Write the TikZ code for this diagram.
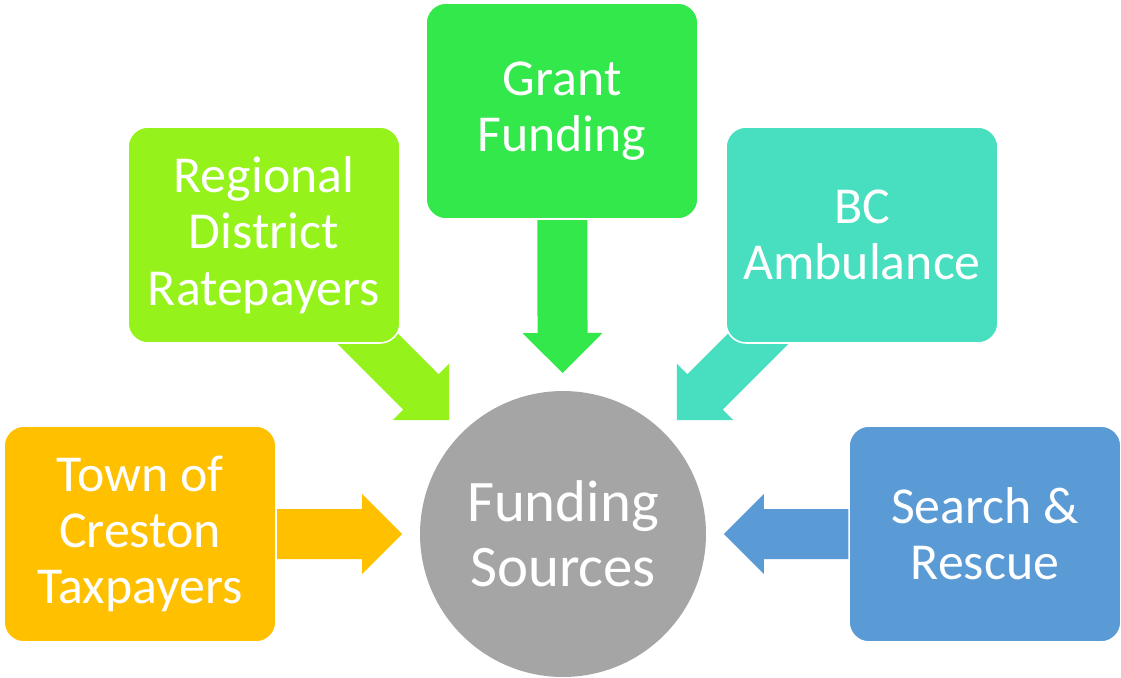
\documentclass[tikz,border=0pt]{standalone}
\usepackage{fontspec}
\setmainfont{Carlito}
\usetikzlibrary{calc,backgrounds}

\definecolor{townyellow}{HTML}{FFC000}
\definecolor{regionlime}{HTML}{95F21B}
\definecolor{grantgreen}{HTML}{32E84A}
\definecolor{ambulanceteal}{HTML}{48DFC0}
\definecolor{rescueblue}{HTML}{5B9BD5}
\definecolor{hubgrey}{HTML}{A5A5A5}

\tikzset{
  source/.style={draw=white,line width=0.9pt,rounded corners=0.4cm,
    minimum width=5.44cm,minimum height=4.32cm,inner sep=0pt,
    text=white,align=center,font=\fontsize{29.5}{32}\selectfont},
  hub/.style={circle,fill=hubgrey,minimum size=5.72cm,inner sep=0pt,
    text=white,align=center,font=\fontsize{33.5}{37}\selectfont}
}

% block arrow: colour, from node, to point
\newcommand{\blockarrow}[3]{%
  \path ($(#3)!0.8cm!(#2)$) coordinate (head);
  \fill[#1] ($(#2)!0.5cm!90:(#3)$) -- ($(head)!0.5cm!90:(#3)$)
    -- ($(head)!0.8cm!90:(#3)$) -- (#3)
    -- ($(head)!0.8cm!-90:(#3)$) -- ($(head)!0.5cm!-90:(#3)$)
    -- ($(#2)!0.5cm!-90:(#3)$) -- cycle;
}

\begin{document}
\begin{tikzpicture}[x=0.02cm,y=-0.02cm]
\useasboundingbox (0,0) rectangle (1121,677);
% centre
  \node[hub] (hub) at (563,534) {Funding\\Sources};
% sources
  \node[source,fill=townyellow] (town) at (140,534) {Town of\\Creston\\Taxpayers};
  \node[source,fill=regionlime] (region) at (264,235) {Regional\\District\\Ratepayers};
  \node[source,fill=grantgreen] (grant) at (562,111) {Grant\\Funding};
  \node[source,fill=ambulanceteal] (ambulance) at (862,235) {BC\\Ambulance};
  \node[source,fill=rescueblue] (rescue) at (985,534) {Search \&\\Rescue};
% arrow tips, just short of the circle
  \coordinate (towntip) at ($(hub)!3.22cm!(town)$);
  \coordinate (regiontip) at ($(hub)!3.22cm!(region)$);
  \coordinate (granttip) at ($(hub)!3.22cm!(grant)$);
  \coordinate (ambulancetip) at ($(hub)!3.22cm!(ambulance)$);
  \coordinate (rescuetip) at ($(hub)!3.22cm!(rescue)$);
% arrows go under the boxes
\begin{scope}[on background layer]
  \fill[white] (0,0) rectangle (1121,677);
  \blockarrow{townyellow}{town}{towntip}
  \blockarrow{regionlime}{region}{regiontip}
  \blockarrow{grantgreen}{grant}{granttip}
  \blockarrow{ambulanceteal}{ambulance}{ambulancetip}
  \blockarrow{rescueblue}{rescue}{rescuetip}
\end{scope}
\end{tikzpicture}
\end{document}
